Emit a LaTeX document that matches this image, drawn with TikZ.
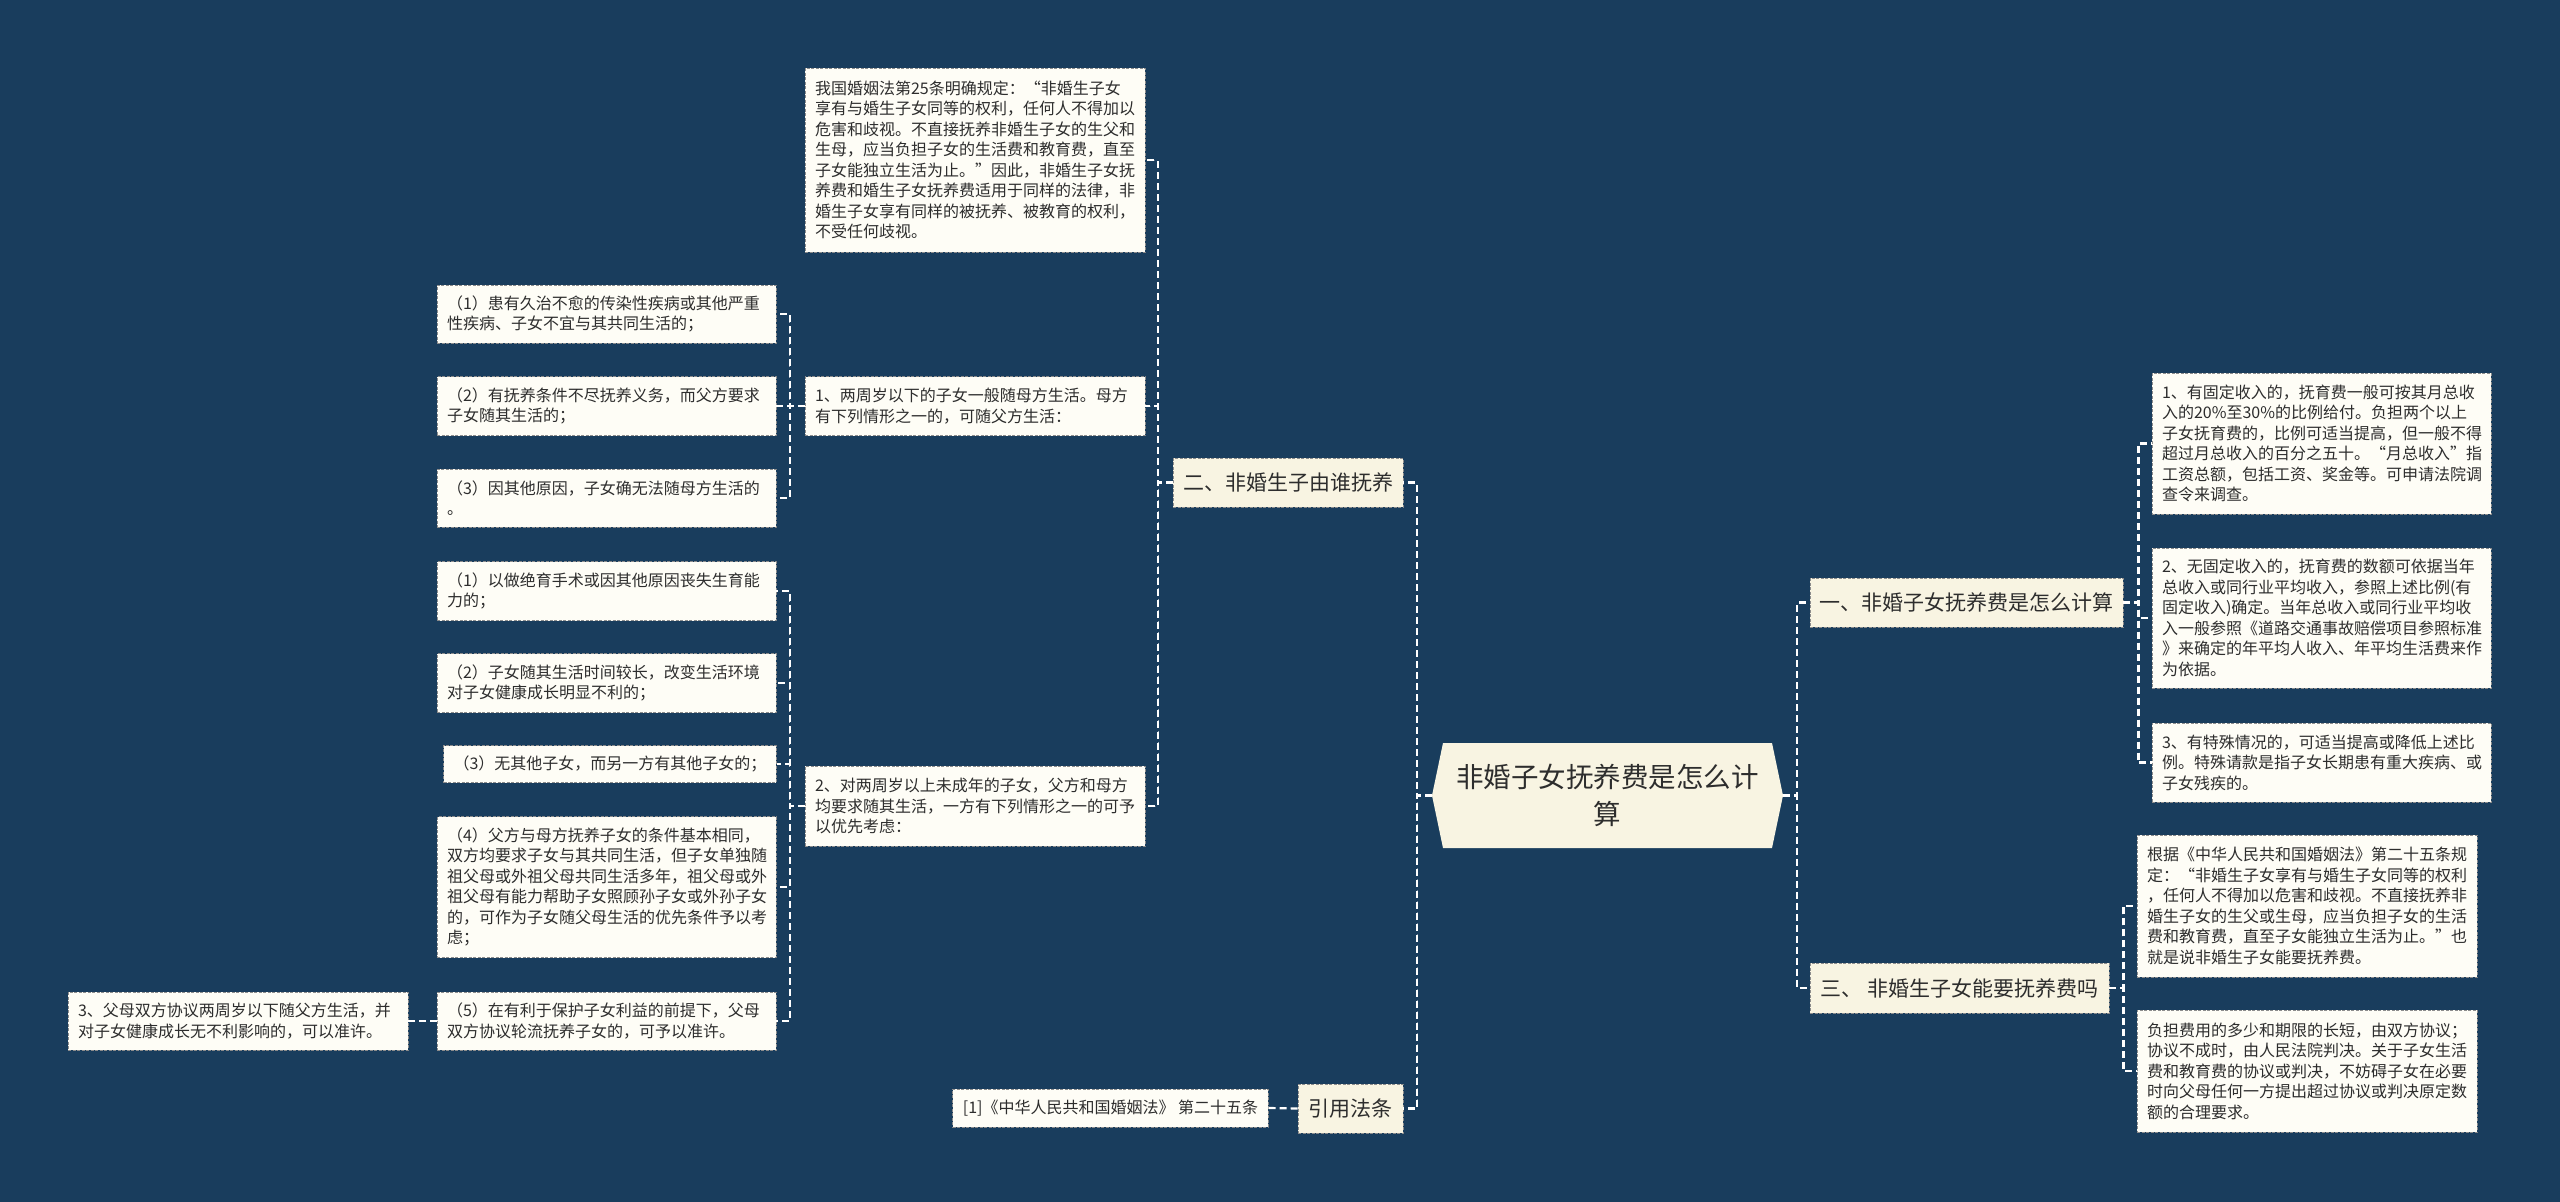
\documentclass[tikz,border=0pt]{standalone}
\usepackage{fontspec}
\setmainfont{Noto Sans CJK SC}
\definecolor{bgblue}{RGB}{25,61,93}
\definecolor{topicbg}{RGB}{248,244,226}
\definecolor{leafbg}{RGB}{254,253,246}
\definecolor{boxline}{RGB}{140,140,140}
\definecolor{txtgray}{RGB}{45,45,45}
\newcommand{\leaffont}{\fontsize{16pt}{20.5pt}\selectfont}
\newcommand{\topicfont}{\fontsize{21pt}{26pt}\selectfont}
\newcommand{\rootfont}{\fontsize{27.5pt}{37pt}\selectfont}
\newcommand{\elbow}[3]{%
  % #1 = parent anchor, #2 = step out to the trunk, #3 = child anchor
  \draw[link] (#1) -- ++(#2,0) |- (#3);
}

\begin{document}
\begin{tikzpicture}[x=1pt, y=-1pt, line join=round,
  leaf/.style={draw=boxline, dash pattern=on 3pt off 1.5pt, line width=0.8pt, fill=leafbg,
    text=txtgray, font=\leaffont, align=left, inner xsep=10pt, inner ysep=0pt},
  topic/.style={draw=boxline, dash pattern=on 3pt off 1.5pt, line width=0.8pt, fill=topicbg,
    text=txtgray, font=\topicfont, inner sep=0pt, minimum height=49pt},
  link/.style={white, line width=2.2pt, dash pattern=on 7pt off 4pt}]

\useasboundingbox (0,0) rectangle (2560,1202);
\fill[bgblue] (0,0) rectangle (2560,1202);

% ============ ROOT ============
\fill[topicbg] (1432,795.5) -- (1443,743) -- (1772,743) -- (1783,795.5) -- (1772,848) -- (1443,848) -- cycle;
\node[font=\rootfont, text=txtgray, align=center, minimum width=351pt, minimum height=105pt, inner sep=0pt]
  (root) at (1607.5,795.5) {非婚子女抚养费是怎么计\\算};

% ============ RIGHT: how it is computed / can it be claimed ============
\node[topic, minimum width=313pt] (b1) at (1966.5,602.5) {一、非婚子女抚养费是怎么计算};
\node[topic, minimum width=299pt, minimum height=50pt] (b3) at (1959.5,988) {三、 非婚生子女能要抚养费吗};

\node[leaf, text width=319pt, minimum height=141pt] (r1a) at (2321.5,443.5)
  {1、有固定收入的，抚育费一般可按其月总收\\入的20\%至30\%的比例给付。负担两个以上\\子女抚育费的，比例可适当提高，但一般不得\\超过月总收入的百分之五十。“月总收入”指\\工资总额，包括工资、奖金等。可申请法院调\\查令来调查。};
\node[leaf, text width=319pt, minimum height=140pt] (r1b) at (2321.5,618)
  {2、无固定收入的，抚育费的数额可依据当年\\总收入或同行业平均收入，参照上述比例(有\\固定收入)确定。当年总收入或同行业平均收\\入一般参照《道路交通事故赔偿项目参照标准\\》来确定的年平均人收入、年平均生活费来作\\为依据。};
\node[leaf, text width=319pt, minimum height=79pt] (r1c) at (2321.5,762.5)
  {3、有特殊情况的，可适当提高或降低上述比\\例。特殊请款是指子女长期患有重大疾病、或\\子女残疾的。};

\node[leaf, text width=320pt, minimum height=142pt] (r3a) at (2307,906)
  {根据《中华人民共和国婚姻法》第二十五条规\\定：“非婚生子女享有与婚生子女同等的权利\\，任何人不得加以危害和歧视。不直接抚养非\\婚生子女的生父或生母，应当负担子女的生活\\费和教育费，直至子女能独立生活为止。”也\\就是说非婚生子女能要抚养费。};
\node[leaf, text width=320pt, minimum height=122pt] (r3b) at (2307,1071)
  {负担费用的多少和期限的长短，由双方协议；\\协议不成时，由人民法院判决。关于子女生活\\费和教育费的协议或判决，不妨碍子女在必要\\时向父母任何一方提出超过协议或判决原定数\\额的合理要求。};

% ============ LEFT: who raises the child ============
\node[topic, minimum width=230pt] (b2) at (1288,482.5) {二、非婚生子由谁抚养};
\node[topic, minimum width=105pt] (cite) at (1350.5,1108.5) {引用法条};
\node[leaf, minimum width=315pt, minimum height=38pt] (ref1) at (1110.5,1108)
  {[1]《中华人民共和国婚姻法》 第二十五条};

\node[leaf, text width=320pt, minimum height=184pt] (t0) at (975,160)
  {我国婚姻法第25条明确规定：“非婚生子女\\享有与婚生子女同等的权利，任何人不得加以\\危害和歧视。不直接抚养非婚生子女的生父和\\生母，应当负担子女的生活费和教育费，直至\\子女能独立生活为止。”因此，非婚生子女抚\\养费和婚生子女抚养费适用于同样的法律，非\\婚生子女享有同样的被抚养、被教育的权利，\\不受任何歧视。};
\node[leaf, text width=320pt, minimum height=59pt] (p1) at (975,406)
  {1、两周岁以下的子女一般随母方生活。母方\\有下列情形之一的，可随父方生活：};
\node[leaf, text width=320pt, minimum height=80pt] (p2) at (975,806)
  {2、对两周岁以上未成年的子女，父方和母方\\均要求随其生活，一方有下列情形之一的可予\\以优先考虑：};

% under 1
\node[leaf, text width=319pt, minimum height=58pt] (p1a) at (606.5,314)
  {（1）患有久治不愈的传染性疾病或其他严重\\性疾病、子女不宜与其共同生活的；};
\node[leaf, text width=319pt, minimum height=59pt] (p1b) at (606.5,406)
  {（2）有抚养条件不尽抚养义务，而父方要求\\子女随其生活的；};
\node[leaf, text width=319pt, minimum height=58pt] (p1c) at (606.5,498)
  {（3）因其他原因，子女确无法随母方生活的\\。};

% under 2
\node[leaf, text width=319pt, minimum height=59pt] (p2a) at (606.5,591)
  {（1）以做绝育手术或因其他原因丧失生育能\\力的；};
\node[leaf, text width=319pt, minimum height=59pt] (p2b) at (606.5,683)
  {（2）子女随其生活时间较长，改变生活环境\\对子女健康成长明显不利的；};
\node[leaf, minimum width=332pt, minimum height=37pt] (p2c) at (610,764)
  {（3）无其他子女，而另一方有其他子女的；};
\node[leaf, text width=319pt, minimum height=141pt] (p2d) at (606.5,887)
  {（4）父方与母方抚养子女的条件基本相同，\\双方均要求子女与其共同生活，但子女单独随\\祖父母或外祖父母共同生活多年，祖父母或外\\祖父母有能力帮助子女照顾孙子女或外孙子女\\的，可作为子女随父母生活的优先条件予以考\\虑；};
\node[leaf, text width=319pt, minimum height=58pt] (p2e) at (606.5,1021)
  {（5）在有利于保护子女利益的前提下，父母\\双方协议轮流抚养子女的，可予以准许。};
\node[leaf, text width=320pt, minimum height=58pt] (p3) at (238,1021)
  {3、父母双方协议两周岁以下随父方生活，并\\对子女健康成长无不利影响的，可以准许。};

% ============ CONNECTORS ============
\foreach \kid in {b1,b3} \elbow{root.east}{14}{\kid.west}
\foreach \kid in {r1a,r1b,r1c} \elbow{b1.east}{15}{\kid.west}
\foreach \kid in {r3a,r3b} \elbow{b3.east}{14}{\kid.west}
\foreach \kid in {b2,cite} \elbow{root.west}{-15}{\kid.east}
\foreach \kid in {t0,p1,p2} \elbow{b2.west}{-15}{\kid.east}
\foreach \kid in {p1a,p1b,p1c} \elbow{p1.west}{-15}{\kid.east}
\foreach \kid in {p2a,p2b,p2c,p2d,p2e} \elbow{p2.west}{-15}{\kid.east}
\draw[link] (p2e.west) -- (p3.east);
\draw[link] (cite.west) -- (ref1.east);
\end{tikzpicture}
\end{document}
